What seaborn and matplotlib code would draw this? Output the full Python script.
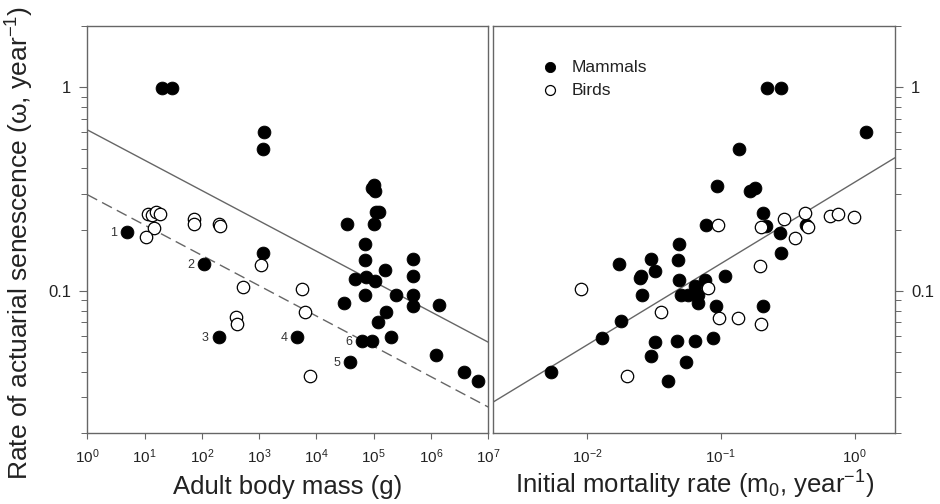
import pandas as pd
import matplotlib
matplotlib.use('Agg')
import matplotlib.pyplot as plt
from matplotlib.ticker import FixedLocator, FixedFormatter, LogLocator, NullLocator, NullFormatter
import seaborn as sns

# Left panel: adult body mass (g) vs rate of actuarial senescence (omega)
mammal_mass = [20, 30, 1200, 1150, 100000, 95000, 105000, 110000, 125000, 100000, 34000,
               71000, 1150, 4.9, 110, 195, 4570, 39000, 62000, 93000,
               71000, 48000, 74000, 105000, 158000, 245000, 71000, 30000, 166000, 117000, 204000,
               480000, 480000, 480000, 480000, 1.4e6, 1.2e6, 3.7e6, 6.6e6]
mammal_omega_l = [0.99, 0.99, 0.60, 0.50, 0.33, 0.32, 0.31, 0.245, 0.245, 0.212, 0.212,
                  0.171, 0.154, 0.195, 0.136, 0.0596, 0.0596, 0.045, 0.057, 0.057,
                  0.142, 0.114, 0.117, 0.112, 0.127, 0.095, 0.095, 0.087, 0.079, 0.0705, 0.0596,
                  0.143, 0.119, 0.096, 0.0845, 0.085, 0.0485, 0.040, 0.036]

bird_mass = [11.6, 13.5, 15.5, 18.5, 14.8, 10.7, 72, 72, 200, 205, 1090, 520, 400, 410,
             5700, 6400, 7600]
bird_omega_l = [0.24, 0.235, 0.245, 0.24, 0.204, 0.184, 0.226, 0.212, 0.212, 0.208, 0.134,
                0.104, 0.0746, 0.069, 0.102, 0.079, 0.0384]

# numbered species in the left panel
numbered_labels = ['1', '2', '3', '4', '5', '6']
numbered_mass = [4.9, 110, 195, 4570, 39000, 62000]
numbered_omega = [0.195, 0.136, 0.0596, 0.0596, 0.045, 0.057]

# fitted lines, left panel (end points)
fit_mass = [1, 1e7]
fit_mammal_l = [0.618, 0.056]
fit_bird_l = [0.297, 0.0269]

# Right panel: initial mortality rate m0 vs omega
mammal_m0 = [0.221, 0.28, 1.22, 0.137, 0.094, 0.164, 0.18, 0.206, 0.077, 0.219, 0.275, 0.436,
             0.0488, 0.28, 0.0173, 0.030, 0.032, 0.048, 0.0255, 0.0248, 0.107, 0.049, 0.076,
             0.064, 0.026, 0.0508, 0.0569, 0.0676, 0.0676, 0.0917, 0.205, 0.0181, 0.0129,
             0.032, 0.0475, 0.0638, 0.0875, 0.030, 0.0553, 0.0403, 0.00536]
mammal_omega_r = [0.99, 0.99, 0.606, 0.50, 0.327, 0.31, 0.32, 0.242, 0.21, 0.209, 0.193, 0.211,
                  0.171, 0.154, 0.135, 0.143, 0.126, 0.142, 0.119, 0.116, 0.119, 0.113, 0.113,
                  0.106, 0.096, 0.0955, 0.0955, 0.0955, 0.087, 0.084, 0.0845, 0.071, 0.059,
                  0.056, 0.057, 0.057, 0.059, 0.048, 0.045, 0.036, 0.040]

bird_m0 = [0.095, 0.201, 0.295, 0.424, 0.449, 0.356, 0.652, 0.752, 0.99, 0.009, 0.195,
           0.080, 0.036, 0.097, 0.135, 0.198, 0.020]
bird_omega_r = [0.21, 0.206, 0.225, 0.242, 0.205, 0.183, 0.234, 0.24, 0.23, 0.102, 0.133,
                0.103, 0.079, 0.074, 0.074, 0.0687, 0.0384]

fit_m0 = [0.002, 2]
fit_r = [0.0285, 0.451]

sns.set_theme(style='ticks')
plt.rcParams['font.family'] = ['Liberation Sans', 'DejaVu Sans']
plt.rcParams['mathtext.fontset'] = 'custom'
plt.rcParams['mathtext.rm'] = 'Liberation Sans'
plt.rcParams['mathtext.it'] = 'Liberation Sans:italic'
plt.rcParams['mathtext.bf'] = 'Liberation Sans:bold'

axis_grey = '#666666'
text_col = '#222222'

fig = plt.figure(figsize=(9.4, 5.04), dpi=100)
ax1 = fig.add_axes([0.0929, 0.1403, 0.4266, 0.8081])
ax2 = fig.add_axes([0.5248, 0.1403, 0.4273, 0.8081])

# --- left panel ---
sns.lineplot(x=fit_mass, y=fit_mammal_l, ax=ax1, color=axis_grey, linewidth=1.0)
sns.lineplot(x=fit_mass, y=fit_bird_l, ax=ax1, color=axis_grey, linewidth=1.0,
             linestyle=(0, (8, 4)))
sns.scatterplot(x=mammal_mass, y=mammal_omega_l, ax=ax1, color='black', s=85,
                edgecolor='black', linewidth=0.6, zorder=3)
sns.scatterplot(x=bird_mass, y=bird_omega_l, ax=ax1, color='white', s=80,
                edgecolor='black', linewidth=0.9, zorder=3)
for lab, xm, yo in zip(numbered_labels, numbered_mass, numbered_omega):
    ax1.annotate(lab, (xm, yo), xytext=(-7, -1), textcoords='offset points',
                 ha='right', va='center', fontsize=9, color='#333333')

ax1.set_xscale('log')
ax1.set_yscale('log')
ax1.set_xlim(1, 1e7)
ax1.set_ylim(0.02, 2)
ax1.xaxis.set_major_locator(FixedLocator([10.0 ** k for k in range(8)]))
ax1.xaxis.set_minor_locator(NullLocator())
ax1.yaxis.set_major_locator(FixedLocator([0.1, 1]))
ax1.yaxis.set_major_formatter(FixedFormatter(['0.1', '1']))
ax1.yaxis.set_minor_locator(LogLocator(base=10, subs=range(2, 10)))
ax1.yaxis.set_minor_formatter(NullFormatter())
ax1.set_xlabel('Adult body mass (g)', fontsize=18.5, color=text_col, va='baseline')
ax1.xaxis.set_label_coords(0.5, -0.149)
ax1.set_ylabel('Rate of actuarial senescence (ω, year$^{-1}$)', fontsize=19, color=text_col)
ax1.yaxis.set_label_coords(-0.128, 0.467)

# --- right panel ---
sns.lineplot(x=fit_m0, y=fit_r, ax=ax2, color=axis_grey, linewidth=1.0)
sns.scatterplot(x=mammal_m0, y=mammal_omega_r, ax=ax2, color='black', s=85,
                edgecolor='black', linewidth=0.6, zorder=3, label='Mammals')
sns.scatterplot(x=bird_m0, y=bird_omega_r, ax=ax2, color='white', s=80,
                edgecolor='black', linewidth=0.9, zorder=3, label='Birds')

ax2.set_xscale('log')
ax2.set_yscale('log')
ax2.set_xlim(0.002, 2)
ax2.set_ylim(0.02, 2)
ax2.xaxis.set_major_locator(FixedLocator([0.01, 0.1, 1]))
ax2.xaxis.set_minor_locator(NullLocator())
ax2.yaxis.tick_right()
ax2.yaxis.set_major_locator(FixedLocator([0.1, 1]))
ax2.yaxis.set_major_formatter(FixedFormatter(['0.1', '1']))
ax2.yaxis.set_minor_locator(LogLocator(base=10, subs=range(2, 10)))
ax2.yaxis.set_minor_formatter(NullFormatter())
ax2.set_xlabel('Initial mortality rate (m$_0$, year$^{-1}$)', fontsize=18.5,
               color=text_col, va='baseline')
ax2.xaxis.set_label_coords(0.5, -0.149)
ax2.set_ylabel('')

leg = ax2.legend(loc='upper left', bbox_to_anchor=(0.12, 0.918), frameon=False,
                 fontsize=12.5, borderaxespad=0, borderpad=0, handlelength=1.0,
                 handletextpad=0.75, labelspacing=0.45, markerscale=0.8)
for t in leg.get_texts():
    t.set_color(text_col)

for ax in (ax1, ax2):
    for sp in ax.spines.values():
        sp.set_visible(True)
        sp.set_color(axis_grey)
        sp.set_linewidth(1.0)
    ax.tick_params(axis='x', which='major', direction='out', length=4, width=0.8,
                   color=axis_grey, labelsize=11, labelcolor=text_col, pad=6,
                   top=False, bottom=True)
    ax.tick_params(axis='y', which='major', direction='out', length=5.5, width=0.8,
                   color=axis_grey, labelsize=12, labelcolor=text_col, pad=6)
    ax.tick_params(axis='y', which='minor', direction='out', length=4, width=0.7,
                   color=axis_grey)

fig.savefig('out.png', dpi=100)
